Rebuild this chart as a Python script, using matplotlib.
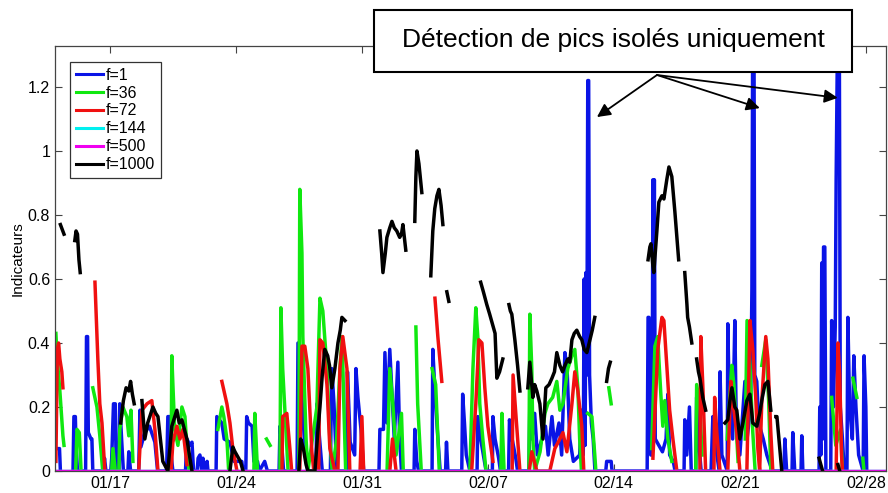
import numpy as np
import matplotlib
matplotlib.use('Agg')
import matplotlib.pyplot as plt
from matplotlib.patches import Rectangle
from datetime import date

nan = np.nan
start = date(2011, 1, 14)  # day 0 of the x axis

tick_labels = ['01/17', '01/24', '01/31', '02/07', '02/14', '02/21', '02/28']
legend_labels = ['f=1', 'f=36', 'f=72', 'f=144', 'f=500', 'f=1000']
colors = ['#0a14e6', '#10e810', '#f01010', '#00f0f0', '#f000f0', 'k']

# f=1 (blue) - isolated spikes
blue_days = [0.0, 0.2, 0.25, nan,
             0.95, 1.0, 1.08, 1.12, 1.2, 1.65, 1.7, 1.76, 1.8, 1.95, 2.0, 2.05,
             2.65, 2.7, 2.78, 3.05, 3.1, 3.2, 3.3, 3.35, 3.5, 3.55, 3.65, 3.75,
             4.0, 4.05, 4.15, 4.6, 4.67, 4.72, 4.94, 5.2, 5.5, 5.65,
             6.15, 6.22, 6.33, 6.4, 6.5, 7.2, 7.28, 7.45, 7.56, 7.65, 7.85, 7.9, 8.0, 8.1,
             8.17, 8.25, 8.35, 8.4, 8.45, 8.9, 8.94, 9.22, 9.35, 9.67, 9.9, 10.33, 10.4,
             10.55, 10.6, 10.7, 10.9, 11.0, 11.2, 11.3, 11.6, 11.75, 12.4, 12.45, 12.55, 12.65,
             13.4, 13.45, 13.55, 13.7, 13.85, 14.0, 14.45, 14.5, 14.65, 14.8,
             15.25, 15.33, 15.45, 15.6, 16.15, 16.2, 16.35, 16.6, 16.67, 16.78, 16.95, 17.1,
             17.95, 18.0, 18.2, 18.28, 18.4, 18.55, 18.65, 18.8, 19.0, 19.1, 19.2,
             19.9, 19.94, 20.05, 20.15, 20.9, 20.94, 21.05, 21.2, 21.35, 21.65, 21.7, 21.78,
             22.55, 22.6, 22.7, 22.8, 23.0, 23.4, 23.44, 23.6, 23.75, 23.9,
             24.25, 24.28, 24.4, 24.6, 24.7, 25.15, 25.2, 25.35, 25.55, 25.65,
             26.28, 26.33, 26.45, 26.6, 26.75, 27.0, 27.2, 27.35, 27.56, 27.7, 27.95, 28.1,
             28.28, 28.4, 28.55, 28.75, 29.1, 29.2, 29.3, 29.35, 29.4, 29.45, 29.5, 29.55,
             29.6, 29.65, 29.75, 29.85, 29.95, 30.55, 30.6, 30.85, 30.9,
             32.85, 32.9, 32.95, 33.05, 33.12, 33.17, 33.2, 33.25, 33.3, 33.5, 33.7, 33.9, 34.0,
             34.1, 34.3, 34.4, 34.9, 34.94, 35.05, 35.2, 35.3, 35.55, 35.6, 35.7, 35.85,
             36.4, 36.5, 36.6, 36.85, 36.9, 37.0, 37.3, 37.33, 37.42, 37.6, 37.72, 37.8,
             38.0, 38.28, 38.4, 38.6, 38.67, 38.72, 38.78, 38.83, 38.94, 39.05, 39.3, 39.5, 39.8,
             40.45, 40.5, 40.6, 40.9, 40.94, 41.05, 41.4, 41.44, 41.5,
             42.4, 42.44, 42.5, 42.55, 42.6, 42.65, 42.72, 42.78, 43.05, 43.1, 43.2, 43.3,
             43.35, 43.45, 43.52, 43.58, 43.7, 43.8, 43.95, 44.0, 44.1, 44.25, 44.33, 44.45,
             44.6, 44.85, 44.9, 45.0, 45.05]
blue_vals = [0.07, 0.07, 0.0, nan,
             0.0, 0.17, 0.17, 0.08, 0.0, 0.0, 0.42, 0.42, 0.12, 0.1, 0.1, 0.0,
             0.0, 0.04, 0.0, 0.0, 0.04, 0.21, 0.21, 0.0, 0.0, 0.21, 0.1, 0.0,
             0.0, 0.06, 0.0, 0.0, 0.19, 0.075, 0.12, 0.14, 0.09, 0.0,
             0.0, 0.17, 0.17, 0.05, 0.0, 0.0, 0.10, 0.08, 0.09, 0.0, 0.0, 0.04, 0.05, 0.0,
             0.04, 0.0, 0.0, 0.03, 0.0, 0.0, 0.17, 0.15, 0.1, 0.09, 0.03, 0.03, 0.0,
             0.0, 0.17, 0.15, 0.14, 0.03, 0.03, 0.0, 0.03, 0.0, 0.0, 0.14, 0.08, 0.0,
             0.0, 0.40, 0.32, 0.2, 0.05, 0.0, 0.0, 0.21, 0.10, 0.0,
             0.0, 0.32, 0.21, 0.0, 0.0, 0.31, 0.09, 0.05, 0.32, 0.23, 0.13, 0.0,
             0.0, 0.13, 0.13, 0.37, 0.15, 0.38, 0.27, 0.1, 0.34, 0.1, 0.0,
             0.0, 0.13, 0.03, 0.0, 0.0, 0.38, 0.26, 0.12, 0.0, 0.0, 0.09, 0.0,
             0.0, 0.24, 0.15, 0.05, 0.0, 0.0, 0.17, 0.1, 0.05, 0.0,
             0.0, 0.17, 0.1, 0.04, 0.0, 0.0, 0.16, 0.1, 0.04, 0.0,
             0.0, 0.2, 0.1, 0.18, 0.05, 0.1, 0.14, 0.05, 0.17, 0.08, 0.15, 0.05,
             0.37, 0.32, 0.1, 0.03, 0.05, 0.19, 0.05, 0.60, 0.08, 0.62, 0.3, 1.22,
             1.22, 0.3, 0.15, 0.1, 0.0, 0.0, 0.03, 0.03, 0.0,
             0.0, 0.48, 0.48, 0.05, 0.05, 0.91, 0.2, 0.91, 0.1, 0.08, 0.06, 0.1, 0.24,
             0.05, 0.03, 0.0, 0.0, 0.16, 0.05, 0.2, 0.0, 0.0, 0.23, 0.1, 0.0,
             0.0, 0.17, 0.1, 0.0, 0.31, 0.05, 0.0, 0.46, 0.2, 0.1, 0.47, 0.15,
             0.05, 0.28, 0.1, 0.2, 0.57, 1.5, 1.5, 0.3, 0.28, 0.15, 0.1, 0.05, 0.0,
             0.0, 0.10, 0.0, 0.0, 0.12, 0.0, 0.0, 0.11, 0.0,
             0.0, 0.2, 0.05, 0.65, 0.1, 0.70, 0.70, 0.0, 0.0, 0.47, 0.2, 0.45,
             0.91, 1.5, 1.5, 0.2, 0.1, 0.0, 0.0, 0.48, 0.2, 0.1, 0.36, 0.2,
             0.05, 0.0, 0.36, 0.2, 0.0]

# f=36 (green)
green_days = [0.0, 0.06, 0.22, 0.39, 0.45, nan, 1.1, 1.17, 1.3, 1.4, nan,
              2.05, 2.28, 2.44, 2.6, nan,
              3.1, 3.17, 3.3, 3.5, 3.55, 3.72, 3.94, 4.05, 4.17, 4.28, nan,
              6.4, 6.44, 6.5, 6.6, 6.78, 7.0, 7.17, 7.28, 7.4, nan,
              9.0, 9.22, 9.33, 9.5, 9.6, nan, 11.0, 11.05, 11.12, 11.2, nan, 11.7, 11.9, nan,
              12.45, 12.5, 12.6, 12.78, 12.9, nan,
              13.5, 13.55, 13.67, 13.72, 13.9, 14.0, 14.5, 14.67, 14.83, 15.06, 15.22, 15.35,
              15.6, 15.78, 15.9, 16.0, 16.1, nan,
              18.4, 18.55, 18.72, 18.9, 19.2, 19.3, nan, 20.0, 20.1, 20.3, nan,
              20.9, 21.1, 21.3, nan, 23.0, 23.17, 23.33, 23.44, 23.55, 23.72, 23.9, nan,
              24.72, 24.78, 24.9, nan,
              26.28, 26.33, 26.44, 26.5, 26.6, 26.9, 27.17, 27.33, 27.6, 27.83, 28.0, 28.17,
              28.44, 28.67, 28.83, 29.0, 29.1, 29.2, nan,
              29.55, 29.78, 29.94, 30.0, nan, 30.72, 30.85, nan,
              33.1, 33.28, 33.44, 33.5, 33.61, 33.72, 33.83, 34.0, 34.22, nan,
              35.55, 35.6, 35.78, 35.9, nan, 37.3, 37.55, 37.67, 37.9, nan,
              38.3, 38.4, 38.56, 38.72, 38.85, nan, 39.22, 39.44, 39.6, 39.72, nan,
              43.1, 43.33, 43.6, 43.7, nan, 44.28, 44.5, nan, 44.83, 44.9]
green_vals = [0.43, 0.36, 0.25, 0.11, 0.08, nan, 0.0, 0.13, 0.12, 0.0, nan,
              0.26, 0.20, 0.11, 0.0, nan,
              0.0, 0.07, 0.0, 0.0, 0.13, 0.20, 0.17, 0.11, 0.19, 0.03, nan,
              0.0, 0.36, 0.27, 0.13, 0.08, 0.20, 0.17, 0.07, 0.0, nan,
              0.13, 0.20, 0.17, 0.10, 0.0, nan, 0.0, 0.18, 0.10, 0.0, nan, 0.10, 0.08, nan,
              0.0, 0.51, 0.32, 0.13, 0.0, nan,
              0.0, 0.88, 0.68, 0.42, 0.10, 0.0, 0.20, 0.54, 0.50, 0.32, 0.10, 0.0,
              0.10, 0.32, 0.42, 0.20, 0.0, nan,
              0.0, 0.32, 0.21, 0.05, 0.18, 0.0, nan, 0.45, 0.21, 0.0, nan,
              0.32, 0.27, 0.0, nan, 0.0, 0.32, 0.51, 0.42, 0.21, 0.10, 0.0, nan,
              0.0, 0.18, 0.0, nan,
              0.0, 0.49, 0.32, 0.10, 0.0, 0.06, 0.18, 0.21, 0.23, 0.28, 0.19, 0.21,
              0.32, 0.36, 0.38, 0.26, 0.10, 0.0, nan,
              0.18, 0.17, 0.05, 0.0, nan, 0.26, 0.21, nan,
              0.07, 0.39, 0.42, 0.35, 0.24, 0.14, 0.22, 0.10, 0.03, nan,
              0.0, 0.27, 0.20, 0.05, nan, 0.10, 0.33, 0.27, 0.03, nan,
              0.10, 0.47, 0.33, 0.12, 0.0, nan, 0.33, 0.41, 0.22, 0.0, nan,
              0.23, 0.08, 0.13, 0.0, nan, 0.29, 0.23, nan, 0.04, 0.0]

# f=72 (red)
red_days = [0.0, 0.08, 0.15, 0.22, 0.33, 0.39, nan, 2.17, 2.33, 2.44, 2.56, 2.72, nan,
            4.6, 4.78, 5.06, 5.33, 5.5, 5.67, nan, 6.4, 6.5, 6.72, 6.89, 7.06, 7.28, nan,
            9.22, 9.5, 9.67, 9.83, 10.06, nan, 12.56, 12.6, 12.83, 13.0, 13.1, nan,
            13.55, 13.67, 13.83, 14.0, 14.22, 14.33, 14.6, 14.67, 14.83, 15.06, 15.22, 15.5,
            15.67, 15.78, 15.94, 16.17, 16.33, nan, 16.9, 17.0, 17.1, nan,
            18.55, 18.7, 18.9, nan, 21.06, 21.22, 21.44, nan,
            23.1, 23.33, 23.5, 23.67, 23.83, 24.0, 24.28, nan, 25.35, 25.4, 25.6, 25.78, nan,
            26.3, 26.44, 26.72, 27.44, 27.72, 28.0, 28.17, 28.39, 28.67, 28.83, 29.0, 29.22, 29.33, nan,
            33.17, 33.44, 33.67, 33.78, 33.94, 34.1, 34.28, 34.5, nan,
            35.78, 35.83, 35.94, 36.1, nan, 36.56, 36.6, 36.72, 36.9, nan,
            37.33, 37.5, 37.6, 37.83, 38.0, nan,
            38.39, 38.56, 38.72, 38.89, 39.0, 39.1, 39.22, 39.44, 39.56, 39.72, 39.83, nan,
            43.35, 43.45, 43.55, 43.65, 43.7]
red_vals = [0.03, 0.38, 0.40, 0.35, 0.31, 0.26, nan, 0.59, 0.35, 0.21, 0.15, 0.0, nan,
            0.0, 0.19, 0.21, 0.22, 0.13, 0.0, nan, 0.0, 0.09, 0.14, 0.10, 0.13, 0.02, nan,
            0.28, 0.21, 0.15, 0.07, 0.0, nan, 0.0, 0.17, 0.18, 0.07, 0.0, nan,
            0.0, 0.39, 0.39, 0.32, 0.06, 0.0, 0.0, 0.41, 0.40, 0.27, 0.07, 0.0,
            0.0, 0.32, 0.42, 0.32, 0.0, nan, 0.0, 0.17, 0.0, nan,
            0.0, 0.10, 0.0, nan, 0.54, 0.42, 0.28, nan,
            0.0, 0.21, 0.41, 0.40, 0.26, 0.14, 0.03, nan, 0.0, 0.30, 0.14, 0.0, nan,
            0.0, 0.06, 0.0, 0.0, 0.07, 0.10, 0.12, 0.06, 0.21, 0.31, 0.25, 0.14, 0.0, nan,
            0.04, 0.38, 0.48, 0.47, 0.33, 0.19, 0.10, 0.0, nan,
            0.0, 0.42, 0.27, 0.0, nan, 0.0, 0.23, 0.12, 0.0, nan,
            0.0, 0.28, 0.22, 0.12, 0.0, nan,
            0.0, 0.47, 0.38, 0.22, 0.07, 0.0, 0.22, 0.42, 0.35, 0.12, 0.0, nan,
            0.0, 0.40, 0.30, 0.05, 0.0]

# f=144 and f=500 stay at zero over the whole period
flat_days = [0.0, 46.2]
cyan_vals = [0.0, 0.0]
magenta_vals = [0.0, 0.0]

# f=1000 (black)
black_days = [0.25, 0.45, nan, 1.05, 1.12, 1.2, 1.28, 1.35, nan,
              3.6, 3.75, 3.9, 4.05, 4.15, 4.25, 4.35, nan,
              4.78, 4.94, 5.1, 5.39, 5.55, 5.67, 5.94, 6.22, 6.44, 6.72, 6.85, 7.0, 7.28, 7.56, nan,
              9.67, 9.83, 9.95, 10.1, 10.25, 10.4, nan,
              13.5, 13.6, 13.75, 13.9, 14.0, 14.2, 14.39, 14.55, 14.67, 14.8, 14.94, 15.1, 15.2,
              15.33, 15.5, 15.67, 15.8, 15.89, 16.06, nan,
              18.0, 18.1, 18.17, 18.3, 18.39, 18.55, 18.67, 18.8, 18.94, 19.1, 19.2, 19.28, 19.44, nan,
              19.94, 20.0, 20.06, 20.17, 20.33, nan,
              20.83, 20.94, 21.05, 21.17, 21.28, 21.4, 21.5, nan, 21.72, 21.83, nan,
              23.6, 23.75, 23.94, 24.1, 24.2, 24.4, 24.5, 24.65, 24.83, nan,
              25.17, 25.25, 25.33, 25.5, 25.65, 25.78, nan,
              26.22, 26.33, 26.5, 26.6, 26.72, 26.89, 27.06, 27.22, 27.4, 27.56, 27.7, 27.83, 28.0,
              28.15, 28.28, 28.44, 28.55, 28.67, 28.8, 28.94, 29.1, 29.22, 29.35, 29.5, 29.67,
              29.8, 29.94, nan, 30.6, 30.7, 30.8, nan,
              32.9, 33.0, 33.06, 33.17, 33.22, 33.39, 33.5, 33.67, 33.78, 33.94, 34.06, 34.22,
              34.39, 34.6, nan, 34.94, 35.06, 35.1, 35.2, 35.33, nan,
              35.6, 35.7, 35.78, 35.94, 36.1, nan,
              37.17, 37.33, 37.45, 37.56, 37.72, 37.83, 38.0, 38.17, 38.39, 38.56, 38.72, 38.94,
              39.1, 39.25, 39.39, 39.56, 39.72, nan, 40.0, 40.06, 40.2, 40.33, nan,
              42.4, 42.5, 42.6, nan, 43.45, 43.55]
black_vals = [0.77, 0.74, nan, 0.72, 0.75, 0.74, 0.66, 0.62, nan,
              0.15, 0.22, 0.26, 0.25, 0.28, 0.24, 0.21, nan,
              0.22, 0.10, 0.15, 0.20, 0.18, 0.17, 0.03, 0.0, 0.14, 0.19, 0.15, 0.16, 0.10, 0.0, nan,
              0.0, 0.075, 0.06, 0.045, 0.03, 0.0, nan,
              0.0, 0.10, 0.07, 0.02, 0.0, 0.0, 0.0, 0.12, 0.20, 0.30, 0.38, 0.36, 0.33,
              0.26, 0.32, 0.40, 0.44, 0.48, 0.47, nan,
              0.75, 0.68, 0.62, 0.68, 0.73, 0.76, 0.78, 0.76, 0.75, 0.73, 0.74, 0.77, 0.69, nan,
              0.78, 0.92, 1.0, 0.96, 0.87, nan,
              0.61, 0.75, 0.82, 0.86, 0.88, 0.83, 0.77, nan, 0.56, 0.53, nan,
              0.59, 0.56, 0.52, 0.49, 0.47, 0.43, 0.29, 0.31, 0.35, nan,
              0.52, 0.50, 0.49, 0.41, 0.33, 0.25, nan,
              0.26, 0.34, 0.23, 0.27, 0.25, 0.21, 0.10, 0.26, 0.27, 0.29, 0.31, 0.37, 0.33,
              0.31, 0.33, 0.35, 0.34, 0.41, 0.43, 0.44, 0.42, 0.41, 0.38, 0.37, 0.41,
              0.44, 0.48, nan, 0.28, 0.32, 0.34, nan,
              0.66, 0.70, 0.71, 0.64, 0.62, 0.75, 0.84, 0.86, 0.85, 0.91, 0.95, 0.92,
              0.81, 0.66, nan, 0.62, 0.52, 0.48, 0.45, 0.40, nan,
              0.35, 0.31, 0.29, 0.23, 0.19, nan,
              0.15, 0.16, 0.22, 0.26, 0.20, 0.19, 0.10, 0.15, 0.22, 0.24, 0.15, 0.14,
              0.18, 0.23, 0.27, 0.28, 0.19, nan, 0.17, 0.17, 0.08, 0.0, nan,
              0.04, 0.02, 0.0, nan, 0.02, 0.0]

# arrow targets (day, value) of the isolated peaks
peak_days = [30.06, 39.11, 43.44]
peak_vals = [1.106, 1.134, 1.166]

plt.rcParams['font.family'] = ['Liberation Sans', 'DejaVu Sans']

fig = plt.figure(figsize=(8.88, 4.93), dpi=100)
ax = fig.add_axes([55 / 888, 22 / 493, 831 / 888, 425 / 493])

series = [(blue_days, blue_vals), (green_days, green_vals), (red_days, red_vals),
          (flat_days, cyan_vals), (flat_days, magenta_vals), (black_days, black_vals)]
for (d, v), c, lab in zip(series, colors, legend_labels):
    ax.plot(d, v, color=c, lw=2.5, label=lab)

ax.set_xlim(-0.05, 46.12)
ax.set_ylim(0, 1.328)
tick_pos = [(date(2011, int(t[:2]), int(t[3:])) - start).days for t in tick_labels]
ax.set_xticks(tick_pos)
ax.set_xticklabels(tick_labels)
ax.set_yticks([0, 0.2, 0.4, 0.6, 0.8, 1.0, 1.2])
ax.set_yticklabels(['0', '0.2', '0.4', '0.6', '0.8', '1', '1.2'])
ax.tick_params(direction='in', top=True, right=True, length=5, labelsize=11.5, color='#444444')
for s in ax.spines.values():
    s.set_color('#444444')
    s.set_linewidth(0.9)
ax.set_ylabel('Indicateurs', fontsize=11)
ax.yaxis.set_label_coords(-0.036, 0.5)

leg = ax.legend(loc='upper left', bbox_to_anchor=(0.018, 0.962), borderaxespad=0,
                fontsize=11.5, handlelength=1.75, handletextpad=0.15, labelspacing=0.18,
                borderpad=0.35, fancybox=False, framealpha=1)
leg.get_frame().set_edgecolor('#333333')
leg.get_frame().set_linewidth(0.9)
for h in leg.get_lines():
    h.set_linewidth(2.2)

# text box above the plot
fig.patches.append(Rectangle((374 / 888, 1 - 72 / 493), 478 / 888, 62 / 493,
                             transform=fig.transFigure, facecolor='white',
                             edgecolor='black', lw=1.5, zorder=5))
fig.text(613 / 888, 1 - 40 / 493, 'Détection de pics isolés uniquement',
         ha='center', va='center', fontsize=19, zorder=6)

for d, v in zip(peak_days, peak_vals):
    ax.annotate('', xy=(d, v), xycoords='data', xytext=(657 / 888, 1 - 75 / 493),
                textcoords='figure fraction', annotation_clip=False,
                arrowprops=dict(arrowstyle='-|>', color='k', lw=1.3,
                                mutation_scale=20, shrinkA=0, shrinkB=0))

fig.savefig('out.png', dpi=100)
